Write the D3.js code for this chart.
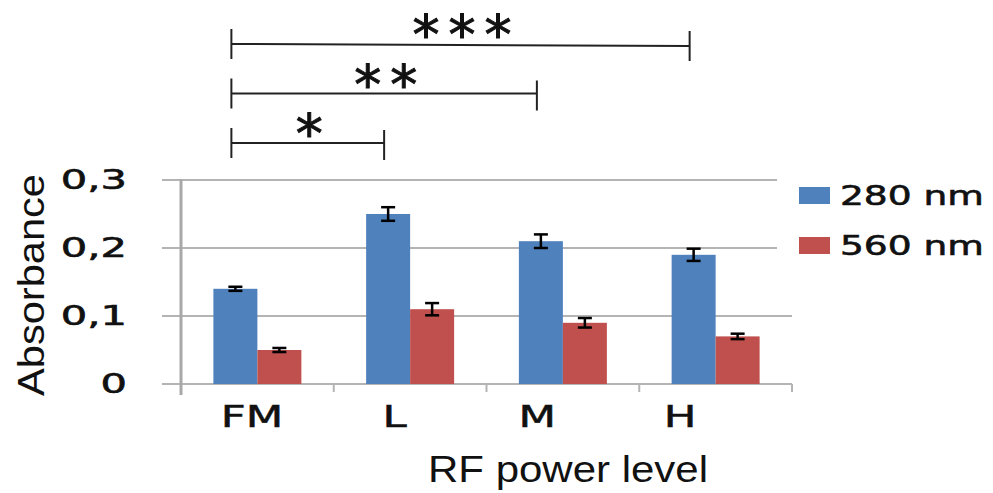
<!DOCTYPE html>
<html>
<head>
<meta charset="utf-8">
<script src="https://cdn.jsdelivr.net/npm/d3@7"></script>
<style>
  html, body { margin: 0; padding: 0; background: #fff; }
  svg { display: block; }
</style>
</head>
<body>
<div id="chart"></div>
<script>
// data
const categories = ['FM', 'L', 'M', 'H'];
const seriesNames = ['280 nm', '560 nm'];
const abs280 = [0.14, 0.25, 0.21, 0.19];
const abs560 = [0.05, 0.11, 0.09, 0.07];
const err280 = [0.003, 0.01, 0.01, 0.009];
const err560 = [0.003, 0.009, 0.007, 0.004];
const yTicks = [0, 0.1, 0.2, 0.3];
const yTickLabels = ['0', '0,1', '0,2', '0,3'];
const comparisons = [
    { from: 'FM', to: 'L', label: '*' },
    { from: 'FM', to: 'M', label: '**' },
    { from: 'FM', to: 'H', label: '***' }
];
const colors = ['#4F81BD', '#C0504D'];

const width = 993, height = 493;
const svg = d3.select('#chart').append('svg')
    .attr('width', width)
    .attr('height', height);

const plot = { left: 181, right: 792, top: 180, bottom: 384 };

const x = d3.scaleBand()
    .domain(categories)
    .range([plot.left, plot.right])
    .paddingInner(0.424)
    .paddingOuter(0.212);

const x1 = d3.scaleBand()
    .domain(seriesNames)
    .range([0, x.bandwidth()]);

const y = d3.scaleLinear()
    .domain([0, 0.3])
    .range([plot.bottom, plot.top]);

// label positions (shifted in the source picture)
const xLabel = d3.scalePoint()
    .domain(categories)
    .range([252, 680]);

const rows = categories.map((c, i) => ({
    cat: c,
    vals: [
        { s: seriesNames[0], v: abs280[i], e: err280[i], k: 0 },
        { s: seriesNames[1], v: abs560[i], e: err560[i], k: 1 }
    ]
}));

// gridlines
svg.append('g')
    .selectAll('line')
    .data(yTicks)
    .enter()
    .append('line')
    .attr('x1', 162)
    .attr('x2', d => d >= 0.2 ? 777 : plot.right)
    .attr('y1', d => y(d))
    .attr('y2', d => y(d))
    .attr('stroke', '#b4b4b4')
    .attr('stroke-width', 2);

// y axis line
svg.append('line')
    .attr('x1', plot.left).attr('x2', plot.left)
    .attr('y1', y(0.3) - 1).attr('y2', plot.bottom + 11)
    .attr('stroke', '#a8a8a8')
    .attr('stroke-width', 3);

// x tick marks between categories
const bounds = categories.slice(1).map(c => x(c) - x.step() * x.paddingInner() / 2);
bounds.push(plot.right);
svg.append('g')
    .selectAll('line')
    .data(bounds)
    .enter()
    .append('line')
    .attr('x1', d => d).attr('x2', d => d)
    .attr('y1', plot.bottom).attr('y2', plot.bottom + 8)
    .attr('stroke', '#b4b4b4')
    .attr('stroke-width', 2);

// bars
const groups = svg.append('g')
    .selectAll('g')
    .data(rows)
    .enter()
    .append('g')
    .attr('transform', d => `translate(${x(d.cat)},0)`);

groups.selectAll('rect')
    .data(d => d.vals)
    .enter()
    .append('rect')
    .attr('x', d => x1(d.s))
    .attr('y', d => y(d.v))
    .attr('width', x1.bandwidth())
    .attr('height', d => y(0) - y(d.v))
    .attr('fill', d => colors[d.k]);

// error bars
const eb = groups.selectAll('g.err')
    .data(d => d.vals)
    .enter()
    .append('g')
    .attr('class', 'err')
    .attr('stroke', '#000')
    .attr('stroke-width', 2.5);

eb.append('line')
    .attr('x1', d => x1(d.s) + x1.bandwidth() / 2)
    .attr('x2', d => x1(d.s) + x1.bandwidth() / 2)
    .attr('y1', d => y(d.v + d.e))
    .attr('y2', d => y(d.v - d.e));
eb.selectAll('line.cap')
    .data(d => [d.v + d.e, d.v - d.e].map(v => ({ v: v, s: d.s })))
    .enter()
    .append('line')
    .attr('class', 'cap')
    .attr('x1', d => x1(d.s) + x1.bandwidth() / 2 - 7)
    .attr('x2', d => x1(d.s) + x1.bandwidth() / 2 + 7)
    .attr('y1', d => y(d.v))
    .attr('y2', d => y(d.v));

// y tick labels
svg.append('g')
    .selectAll('text')
    .data(yTicks)
    .enter()
    .append('text')
    .attr('transform', d => `translate(127,${y(d) + 9}) scale(1.6,1)`)
    .attr('text-anchor', 'end')
    .attr('font-family', 'DejaVu Sans, Verdana, sans-serif')
    .attr('font-size', 26)
    .attr('fill', '#111')
    .attr('stroke', '#111')
    .attr('stroke-width', 0.6)
    .text((d, i) => yTickLabels[i]);

// x tick labels
svg.append('g')
    .selectAll('text')
    .data(categories)
    .enter()
    .append('text')
    .attr('transform', d => `translate(${xLabel(d)},427) scale(1.45,1)`)
    .attr('text-anchor', 'middle')
    .attr('font-family', 'DejaVu Sans, Verdana, sans-serif')
    .attr('font-size', 30)
    .attr('fill', '#111')
    .attr('stroke', '#111')
    .attr('stroke-width', 0.5)
    .text(d => d);

// axis titles
svg.append('text')
    .attr('x', 568)
    .attr('y', 482)
    .attr('text-anchor', 'middle')
    .attr('font-family', 'Liberation Sans, Arial, sans-serif')
    .attr('font-size', 37)
    .attr('textLength', 280)
    .attr('lengthAdjust', 'spacingAndGlyphs')
    .attr('fill', '#111')
    .text('RF power level');

svg.append('text')
    .attr('transform', 'translate(44,285) rotate(-90)')
    .attr('text-anchor', 'middle')
    .attr('font-family', 'Liberation Sans, Arial, sans-serif')
    .attr('font-size', 36)
    .attr('textLength', 222)
    .attr('lengthAdjust', 'spacingAndGlyphs')
    .attr('fill', '#111')
    .text('Absorbance');

// legend
const legend = svg.append('g')
    .selectAll('g')
    .data(seriesNames)
    .enter()
    .append('g')
    .attr('transform', (d, i) => `translate(799,${187 + i * 50})`);
legend.append('rect')
    .attr('width', 31)
    .attr('height', 17)
    .attr('fill', (d, i) => colors[i]);
legend.append('text')
    .attr('transform', 'translate(41,18) scale(1.39,1)')
    .attr('font-family', 'DejaVu Sans, Verdana, sans-serif')
    .attr('font-size', 27)
    .attr('fill', '#111')
    .attr('stroke', '#111')
    .attr('stroke-width', 0.6)
    .text(d => d);

// significance brackets
const cx = c => x(c) + x1(seriesNames[0]) + x1.bandwidth() / 2 - 4;
const bracketY = i => 143 - i * 49.5;
const br = svg.append('g')
    .selectAll('g')
    .data(comparisons)
    .enter()
    .append('g')
    .attr('stroke', '#222')
    .attr('stroke-width', 2);

br.append('line')
    .attr('x1', d => cx(d.from))
    .attr('x2', d => cx(d.to))
    .attr('y1', (d, i) => bracketY(i))
    .attr('y2', (d, i) => bracketY(i) + (i === 2 ? 2 : 0));
br.append('line')
    .attr('x1', d => cx(d.from)).attr('x2', d => cx(d.from))
    .attr('y1', (d, i) => bracketY(i) - 15)
    .attr('y2', (d, i) => bracketY(i) + 15);
br.append('line')
    .attr('x1', d => cx(d.to)).attr('x2', d => cx(d.to))
    .attr('y1', (d, i) => bracketY(i) - 13)
    .attr('y2', (d, i) => bracketY(i) + 17);
br.append('text')
    .attr('x', d => (cx(d.from) + cx(d.to)) / 2 + 6)
    .attr('y', (d, i) => bracketY(i) + 9)
    .attr('text-anchor', 'middle')
    .attr('stroke', '#111')
    .attr('stroke-width', 1)
    .attr('fill', '#111')
    .attr('font-family', 'DejaVu Sans, sans-serif')
    .attr('font-size', 54)
    .attr('letter-spacing', 9)
    .text(d => d.label);
</script>
</body>
</html>
